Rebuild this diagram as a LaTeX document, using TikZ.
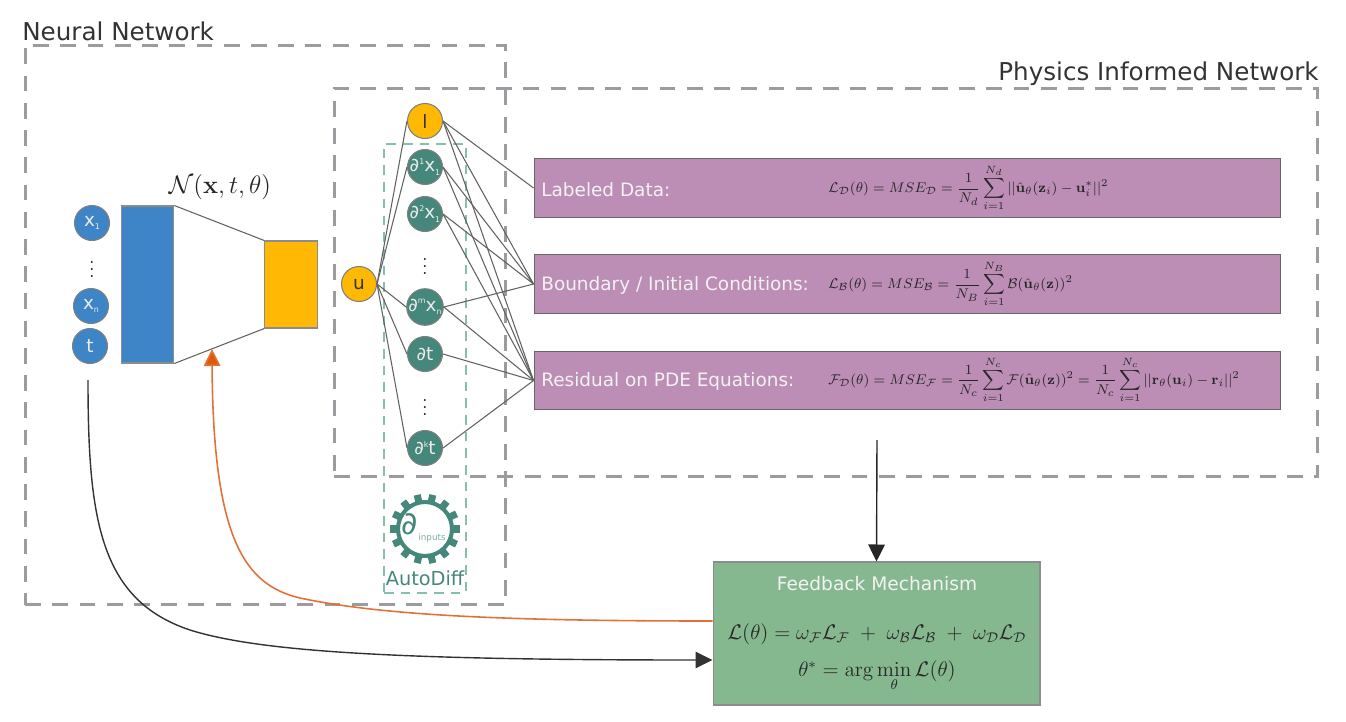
\documentclass[tikz,border=0pt]{standalone}
\usepackage[no-math]{fontspec}
\usepackage{amsmath}
\usepackage{amssymb}
\setmainfont{DejaVu Sans}
\usetikzlibrary{arrows.meta, positioning, shapes}
\definecolor{netblue}{RGB}{61, 133, 198}
\definecolor{netyellow}{RGB}{255, 185, 5}
\definecolor{adteal}{RGB}{69, 135, 122}
\definecolor{adlight}{RGB}{135, 190, 178}
\definecolor{losspurple}{RGB}{188, 142, 181}
\definecolor{fbgreen}{RGB}{134, 184, 143}
\definecolor{fborange}{RGB}{224, 88, 10}
\definecolor{fbline}{RGB}{226, 112, 58}
\definecolor{framegray}{RGB}{155, 155, 160}
\newcommand{\supn}[1]{\raisebox{0.75ex}{\fontsize{4.5}{5}\selectfont #1}}
\newcommand{\subn}[1]{\raisebox{-0.35ex}{\fontsize{4.5}{5}\selectfont #1}}

\begin{document}
\begin{tikzpicture}[x=0.02cm, y=-0.02cm]
\tikzstyle{frame} = [draw=framegray, line width=1.7pt, dash pattern=on 9pt off 6.5pt]
\tikzstyle{adframe} = [draw=adlight, line width=0.9pt, dash pattern=on 5.5pt off 4pt]
\tikzstyle{title} = [text=black!80, font=\fontsize{14}{16}\selectfont, inner sep=0pt]
\tikzstyle{neuron} = [circle, draw=black!50, line width=0.6pt, minimum size=0.7cm, inner sep=0pt, text=white!92!black, font=\fontsize{10.5}{12}\selectfont]
\tikzstyle{inp} = [neuron, fill=netblue]
\tikzstyle{outp} = [neuron, fill=netyellow, text=black!80]
\tikzstyle{deriv} = [neuron, fill=adteal]
\tikzstyle{layerbox} = [rectangle, draw=black!45, line width=0.6pt, minimum width=1.05cm, inner sep=0pt]
\tikzstyle{lossbox} = [rectangle, draw=black!60, line width=0.6pt, fill=losspurple, minimum width=14.94cm, minimum height=1.17cm]
\tikzstyle{losstext} = [anchor=west, inner sep=0pt, text=white!95!black, font=\fontsize{10.5}{12}\selectfont]
\tikzstyle{lossform} = [anchor=west, inner sep=0pt, text=black!85, font=\fontsize{8.1}{10}\selectfont]
\tikzstyle{link} = [draw=black!62, line width=0.6pt]
\tikzstyle{arrow} = [line width=0.8pt, -{Triangle[length=0.34cm, width=0.33cm]}]

\useasboundingbox (0,0) rectangle (1346,721);

\node (nnframe) [frame, rectangle, minimum width=9.62cm, minimum height=11.2cm, inner sep=0pt] at (265.5,325) {};
\node (pinframe) [frame, rectangle, minimum width=19.68cm, minimum height=7.78cm, inner sep=0pt] at (826,282.5) {};
\node (adbox) [adframe, rectangle, minimum width=1.64cm, minimum height=8.98cm, inner sep=0pt] at (425,368.5) {};
\node (nntitle) [title, anchor=west] at (22,31) {Neural Network};
\node (pintitle) [title, anchor=east] at (1319,74) {Physics Informed Network};

\node (x1) [inp] at (92,223) {x\subn{1}};
\node (xdots) [text=black!80, font=\small] at (92,264) {$\vdots$};
\node (xn) [inp] at (91,306) {x\subn{n}};
\node (t) [inp] at (90,346) {t};

\node (enc) [layerbox, fill=netblue, minimum height=3.14cm] at (147.5,284.5) {};
\node (dec) [layerbox, fill=netyellow, minimum height=1.74cm] at (291,284.5) {};
\node (nnlabel) [inner sep=0pt, text=black!85, font=\fontsize{14.5}{16}\selectfont] at (220,187) {$\mathcal{N}(\mathbf{x},t,\theta)$};
\draw [link] (enc.north east) -- (dec.north west);
\draw [link] (enc.south east) -- (dec.south west);

\node (u) [outp] at (359,284) {u};
\node (l) [outp] at (425,121) {l};
\node (d1) [deriv] at (425,167) {∂\supn{1}x\subn{1}};
\node (d2) [deriv] at (425,214) {∂\supn{2}x\subn{1}};
\node (ddots) [text=black!80, font=\small] at (425,261) {$\vdots$};
\node (dm) [deriv] at (425,307) {∂\supn{m}x\subn{n}};
\node (dt) [deriv] at (425,354) {∂t};
\node (tdots) [text=black!80, font=\small] at (425,402) {$\vdots$};
\node (dk) [deriv] at (425,448) {∂\supn{k}t};

\node (gear) [circle, draw=adteal, line width=2.3pt, minimum size=1.08cm, inner sep=0pt] at (425,529) {};
\foreach \n in {0,...,13}
  \draw [adteal, line width=4pt, shift={(gear.center)}] ({\n*360/14}:27) -- ({\n*360/14}:35);
\node (gearsym) [inner sep=0pt, text=adteal, font=\fontsize{18}{20}\selectfont] at (410,524) {∂};
\node (gearsub) [inner sep=0pt, text=adteal!70, font=\fontsize{5}{6}\selectfont] at (432,538) {inputs};
\node (adlabel) [inner sep=0pt, text=adteal, font=\fontsize{11}{13}\selectfont] at (425,578) {AutoDiff};

\node (data) [lossbox] at (907.5,188) {};
\node (bound) [lossbox] at (907.5,284) {};
\node (resid) [lossbox] at (907.5,380.5) {};
\node (datatext) [losstext] at (541,190) {Labeled Data:};
\node (boundtext) [losstext] at (541,285) {Boundary / Initial Conditions:};
\node (residtext) [losstext] at (541,381) {Residual on PDE Equations:};
\node (dataform) [lossform] at (828,188) {$\mathcal{L}_{\mathcal{D}}(\theta)=MSE_{\mathcal{D}}=\dfrac{1}{N_d}\displaystyle\sum_{i=1}^{N_d}||\hat{\mathbf{u}}_{\theta}(\mathbf{z}_i)-\mathbf{u}_i^{*}||^2$};
\node (boundform) [lossform] at (828,284) {$\mathcal{L}_{\mathcal{B}}(\theta)=MSE_{\mathcal{B}}=\dfrac{1}{N_B}\displaystyle\sum_{i=1}^{N_B}\mathcal{B}(\hat{\mathbf{u}}_{\theta}(\mathbf{z}))^2$};
\node (residform) [lossform] at (828,380) {$\mathcal{F}_{\mathcal{D}}(\theta)=MSE_{\mathcal{F}}=\dfrac{1}{N_c}\displaystyle\sum_{i=1}^{N_c}\mathcal{F}(\hat{\mathbf{u}}_{\theta}(\mathbf{z}))^2=\dfrac{1}{N_c}\displaystyle\sum_{i=1}^{N_c}||\mathbf{r}_{\theta}(\mathbf{u}_i)-\mathbf{r}_i||^2$};

\draw [link] (u.east) -- (l.west);
\draw [link] (u.east) -- (d1.west);
\draw [link] (u.east) -- (dm.west);
\draw [link] (u.east) -- (dt.west);
\draw [link] (u.east) -- (dk.west);
\draw [link] (l.east) -- (data.west);
\draw [link] (l.east) -- (bound.west);
\draw [link] (l.east) -- (resid.west);
\draw [link] (d1.east) -- (bound.west);
\draw [link] (d1.east) -- (resid.west);
\draw [link] (d2.east) -- (bound.west);
\draw [link] (d2.east) -- (resid.west);
\draw [link] (dm.east) -- (bound.west);
\draw [link] (dm.east) -- (resid.west);
\draw [link] (dt.east) -- (resid.west);
\draw [link] (dk.east) -- (resid.west);

\node (fb) [rectangle, draw=black!45, line width=0.6pt, fill=fbgreen, minimum width=6.54cm, minimum height=2.86cm] at (876.5,633.5) {};
\node (fbtitle) [inner sep=0pt, text=white!95!black, font=\fontsize{10.6}{13}\selectfont] at (877,584) {Feedback Mechanism};
\node (fbform) [inner sep=0pt, text=black!85, font=\fontsize{11.6}{14}\selectfont] at (877,634) {$\mathcal{L}(\theta)=\omega_{\mathcal{F}}\mathcal{L}_{\mathcal{F}}\;+\;\omega_{\mathcal{B}}\mathcal{L}_{\mathcal{B}}\;+\;\omega_{\mathcal{D}}\mathcal{L}_{\mathcal{D}}$};
\node (fbmin) [inner sep=0pt, text=black!85, font=\fontsize{11.5}{14}\selectfont] at (877,676) {$\theta^{*}=\arg\min\limits_{\theta}\mathcal{L}(\theta)$};

\coordinate (pinout) at (877,440);
\coordinate (fbout) at (fb.west |- 0,621);
\coordinate (fbin) at (fb.west |- 0,660);
\coordinate (tout) at (88,380);
\coordinate (nnin) at (212,349);

\draw [arrow, black!85] (pinout) -- (fb.north);
\draw [arrow, black!80] (tout) .. controls (88,520) and (100,600) .. (190,630) .. controls (260,652) and (400,660) .. (fbin);
\draw [line width=0.9pt, fbline, -{Triangle[length=0.34cm, width=0.33cm, fill=fborange]}] (fbout) .. controls (500,621) and (380,615) .. (300,598) .. controls (245,585) and (213,540) .. (nnin);
\end{tikzpicture}
\end{document}
